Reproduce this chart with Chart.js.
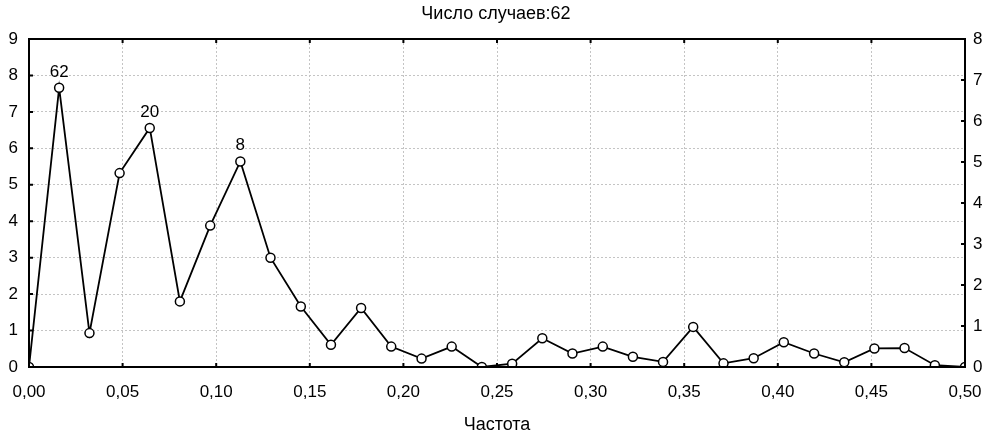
<!DOCTYPE html>
<html>
<head>
<meta charset="utf-8">
<script src="https://cdn.jsdelivr.net/npm/chart.js@4.4.0/dist/chart.umd.min.js"></script>
<style>
  html, body { margin: 0; padding: 0; background: #fff; }
  #wrap { width: 992px; height: 439px; }
</style>
</head>
<body>
<div id="wrap"><canvas id="myChart"></canvas></div>
<script>
var frequencies = [0, 0.0161, 0.0323, 0.0484, 0.0645, 0.0806, 0.0968, 0.1129, 0.1290, 0.1452,
    0.1613, 0.1774, 0.1935, 0.2097, 0.2258, 0.2419, 0.2581, 0.2742, 0.2903, 0.3065,
    0.3226, 0.3387, 0.3548, 0.3710, 0.3871, 0.4032, 0.4194, 0.4355, 0.4516, 0.4677,
    0.4839, 0.5000];
var values = [0, 7.66, 0.93, 5.32, 6.56, 1.80, 3.88, 5.64, 3.00, 1.66,
    0.61, 1.62, 0.56, 0.23, 0.56, 0.00, 0.09, 0.79, 0.37, 0.56,
    0.28, 0.14, 1.10, 0.10, 0.24, 0.68, 0.37, 0.13, 0.51, 0.52,
    0.05, 0.00];
var peakIndex = [1, 4, 7];
var peakLabels = ['62', '20', '8'];
var xTicks = [0, 0.05, 0.10, 0.15, 0.20, 0.25, 0.30, 0.35, 0.40, 0.45, 0.50];
var leftMax = 9;
var rightMax = 8;

document.addEventListener('DOMContentLoaded', function(){
    var FONT = 'Liberation Sans, Arial, sans-serif';

    var points = frequencies.map(function(f, i){ return {x: f, y: values[i]}; });

    // frame round the plot and inward tick marks
    var framePlugin = {
        id: 'frame',
        afterDatasetsDraw: function(chart){
            var a = chart.chartArea, ctx = chart.ctx;
            var xs = chart.scales.x, yl = chart.scales.y, yr = chart.scales.y2;
            ctx.save();
            ctx.strokeStyle = '#000';
            ctx.lineWidth = 2;
            ctx.strokeRect(a.left, a.top, a.right - a.left, a.bottom - a.top);
            ctx.beginPath();
            xs.ticks.forEach(function(t){
                var px = xs.getPixelForValue(t.value);
                ctx.moveTo(px, a.bottom); ctx.lineTo(px, a.bottom - 4);
                ctx.moveTo(px, a.top); ctx.lineTo(px, a.top + 4);
            });
            yl.ticks.forEach(function(t){
                var py = yl.getPixelForValue(t.value);
                ctx.moveTo(a.left, py); ctx.lineTo(a.left + 4, py);
            });
            yr.ticks.forEach(function(t){
                var py = yr.getPixelForValue(t.value);
                ctx.moveTo(a.right, py); ctx.lineTo(a.right - 4, py);
            });
            ctx.stroke();

            // peak labels
            var meta = chart.getDatasetMeta(0);
            ctx.fillStyle = '#000';
            ctx.font = '17px ' + FONT;
            ctx.textAlign = 'center';
            ctx.textBaseline = 'middle';
            peakIndex.forEach(function(idx, k){
                var el = meta.data[idx];
                ctx.fillText(peakLabels[k], el.x, el.y - 16);
            });
            ctx.restore();
        }
    };

    var data = {
        datasets: [{
            data: points,
            borderColor: '#000',
            borderWidth: 1.8,
            pointRadius: 4.5,
            pointBorderWidth: 1.5,
            pointBackgroundColor: '#fff',
            pointBorderColor: '#000',
            tension: 0,
            yAxisID: 'y'
        }]
    };

    var options = {
        responsive: true,
        maintainAspectRatio: false,
        animation: false,
        layout: { padding: { left: 0, right: 0, top: 0, bottom: 0 } },
        plugins: {
            legend: { display: false },
            tooltip: { enabled: false },
            title: {
                display: true,
                text: 'Число случаев:62',
                color: '#000',
                font: { family: FONT, size: 18, weight: 'normal' },
                padding: { top: 3, bottom: 14.4 }
            }
        },
        scales: {
            x: {
                type: 'linear',
                min: 0, max: 0.5,
                afterBuildTicks: function(s){ s.ticks = xTicks.map(function(v){ return {value: v}; }); },
                afterFit: function(s){ s.height = 72; s.paddingLeft = 0; s.paddingRight = 0; },
                ticks: {
                    color: '#000',
                    font: { family: FONT, size: 17 },
                    padding: 15,
                    maxRotation: 0,
                    callback: function(v){ return v.toFixed(2).replace('.', ','); }
                },
                grid: { color: '#c4c4c4', drawTicks: false },
                border: { display: false, dash: [2, 2] },
                title: {
                    display: true, text: 'Частота', color: '#000',
                    font: { family: FONT, size: 18 },
                    padding: { top: 0, bottom: 2.7 }
                }
            },
            y: {
                position: 'left',
                min: 0, max: leftMax,
                afterFit: function(s){ s.width = 29; s.paddingTop = 0; s.paddingBottom = 0; },
                ticks: { stepSize: 1, color: '#000', font: { family: FONT, size: 17 }, padding: 11 },
                grid: { color: '#c4c4c4', drawTicks: false },
                border: { display: false, dash: [2, 2] }
            },
            y2: {
                position: 'right',
                min: 0, max: rightMax,
                afterFit: function(s){ s.width = 27; s.paddingTop = 0; s.paddingBottom = 0; },
                ticks: { stepSize: 1, color: '#000', font: { family: FONT, size: 17 }, padding: 8 },
                grid: { display: false, drawTicks: false },
                border: { display: false }
            }
        }
    };

    var ctx = document.getElementById('myChart').getContext('2d');
    var myChart = new Chart(ctx, {
        type: 'line',
        data: data,
        options: options,
        plugins: [framePlugin]
    });
});
</script>
</body>
</html>
